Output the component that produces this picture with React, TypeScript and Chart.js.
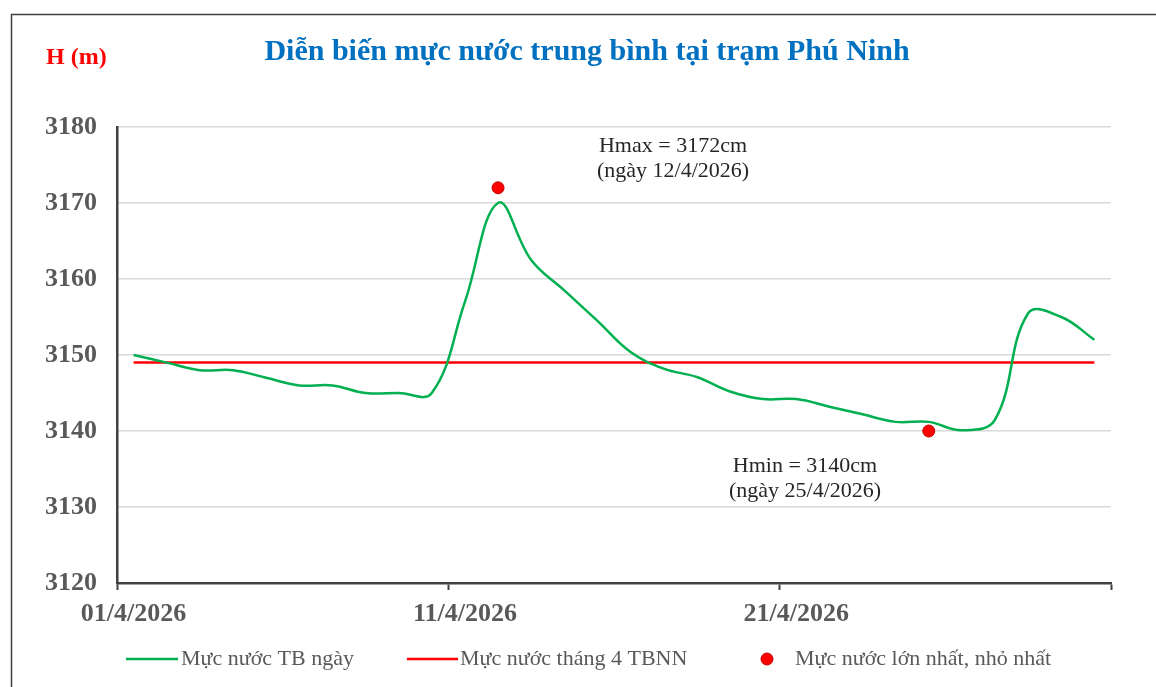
import React, { useEffect, useRef } from "react";
import { Chart, registerables } from "chart.js";

Chart.register(...registerables);

const days: string[] = Array.from({ length: 30 }, (_, i) => `${String(i + 1).padStart(2, "0")}/4/2026`);
const tickLabels: string[] = ["01/4/2026", "11/4/2026", "21/4/2026"];
const dailyLevel: number[] = [
  3150, 3149, 3148, 3148, 3147, 3146, 3146, 3145, 3145, 3145,
  3157, 3170, 3162.5, 3158.5, 3154.5, 3150.4, 3148.2, 3147.1, 3145.2, 3144.2,
  3144.2, 3143.2, 3142.2, 3141.2, 3141.2, 3140.1, 3141.5, 3155.5, 3155, 3152,
];
const monthlyMean: number[] = days.map(() => 3149);
const extremes: (number | null)[] = days.map((_, i) => (i === 11 ? 3172 : i === 24 ? 3140 : null));
const seriesNames: string[] = ["Mực nước TB ngày", "Mực nước tháng 4 TBNN", "Mực nước lớn nhất, nhỏ nhất"];
const titleText = "Diễn biến mực nước trung bình tại trạm Phú Ninh";
const yUnit = "H (m)";
const maxNote: string[] = ["Hmax = 3172cm", "(ngày 12/4/2026)"];
const minNote: string[] = ["Hmin = 3140cm", "(ngày 25/4/2026)"];

const SERIF = '"Liberation Serif", "Times New Roman", serif';

const decorPlugin = {
  id: "decor",
  afterDraw(chart: any) {
    const ctx = chart.ctx as CanvasRenderingContext2D;
    ctx.save();
    // frame
    ctx.strokeStyle = "#404040";
    ctx.lineWidth = 1.5;
    ctx.beginPath();
    ctx.moveTo(11.5, 687);
    ctx.lineTo(11.5, 14.5);
    ctx.lineTo(1156, 14.5);
    ctx.stroke();
    // title
    ctx.fillStyle = "#0070C0";
    ctx.font = `bold 30px ${SERIF}`;
    ctx.textAlign = "center";
    ctx.textBaseline = "middle";
    ctx.fillText(titleText, 587, 52);
    // unit
    ctx.fillStyle = "#FF0000";
    ctx.font = `bold 24px ${SERIF}`;
    ctx.textAlign = "left";
    ctx.fillText(yUnit, 46, 58);
    // notes
    ctx.fillStyle = "#262626";
    ctx.font = `22px ${SERIF}`;
    ctx.textAlign = "center";
    ctx.fillText(maxNote[0], 673, 146);
    ctx.fillText(maxNote[1], 673, 171);
    ctx.fillText(minNote[0], 805, 466);
    ctx.fillText(minNote[1], 805, 491);
    // legend
    const ly = 659;
    ctx.lineWidth = 2.5;
    ctx.strokeStyle = "#00B050";
    ctx.beginPath();
    ctx.moveTo(126, ly);
    ctx.lineTo(178, ly);
    ctx.stroke();
    ctx.strokeStyle = "#FF0000";
    ctx.beginPath();
    ctx.moveTo(407, ly);
    ctx.lineTo(458, ly);
    ctx.stroke();
    ctx.fillStyle = "#FF0000";
    ctx.strokeStyle = "#C00000";
    ctx.lineWidth = 1;
    ctx.beginPath();
    ctx.arc(767, ly, 6, 0, Math.PI * 2);
    ctx.fill();
    ctx.stroke();
    ctx.fillStyle = "#595959";
    ctx.font = `22px ${SERIF}`;
    ctx.textAlign = "left";
    ctx.fillText(seriesNames[0], 181, ly);
    ctx.fillText(seriesNames[1], 460, ly);
    ctx.fillText(seriesNames[2], 795, ly);
    ctx.restore();
  },
};

export default function App() {
  const ref = useRef<HTMLCanvasElement | null>(null);
  useEffect(() => {
    if (!ref.current) return;
    const chart = new Chart(ref.current, {
      type: "line",
      data: {
        labels: days,
        datasets: [
          {
            label: seriesNames[0],
            data: dailyLevel,
            borderColor: "#00B050",
            borderWidth: 2.5,
            pointRadius: 0,
            tension: 0.4,
            fill: false,
          },
          {
            label: seriesNames[1],
            data: monthlyMean,
            borderColor: "#FF0000",
            borderWidth: 2.5,
            pointRadius: 0,
            tension: 0,
            fill: false,
          },
          {
            label: seriesNames[2],
            data: extremes,
            showLine: false,
            pointRadius: 6,
            pointBackgroundColor: "#FF0000",
            pointBorderColor: "#C00000",
            pointBorderWidth: 1,
            borderColor: "#FF0000",
            backgroundColor: "#FF0000",
          },
        ],
      },
      options: {
        responsive: false,
        animation: false,
        layout: { padding: { top: 127, right: 45, left: 0, bottom: 0 } },
        plugins: {
          legend: { display: false },
          title: { display: false },
          tooltip: { enabled: false },
        },
        scales: {
          x: {
            type: "category",
            offset: true,
            grid: {
              offset: true,
              drawOnChartArea: false,
              drawTicks: true,
              tickLength: 7,
              tickWidth: 2,
              tickColor: (c: any) =>
                c.index === undefined || c.index % 10 === 0 ? "#404040" : "rgba(0,0,0,0)",
            },
            border: { color: "#404040", width: 2.5 },
            ticks: {
              autoSkip: false,
              maxRotation: 0,
              minRotation: 0,
              padding: 9,
              color: "#595959",
              font: { family: SERIF, size: 26, weight: "bold" },
              callback: (_v: any, i: number) => (i % 10 === 0 ? tickLabels[i / 10] : ""),
            },
            afterFit: (s: any) => {
              s.height = 104;
            },
          },
          y: {
            min: 3120,
            max: 3180,
            ticks: {
              stepSize: 10,
              padding: 20,
              color: "#595959",
              font: { family: SERIF, size: 26, weight: "bold" },
              callback: (v: any) => String(v),
            },
            grid: { color: "#d9d9d9", lineWidth: 1.5, drawTicks: false },
            border: { color: "#404040", width: 2.5 },
            afterFit: (s: any) => {
              s.width = 117;
            },
          },
        },
      },
      plugins: [decorPlugin],
    } as any);
    return () => chart.destroy();
  }, []);
  return (
    <div style={{ position: "fixed", left: 0, top: 0, width: 1156, height: 687, background: "#fff" }}>
      <canvas ref={ref} width={1156} height={687} style={{ display: "block" }} />
    </div>
  );
}
